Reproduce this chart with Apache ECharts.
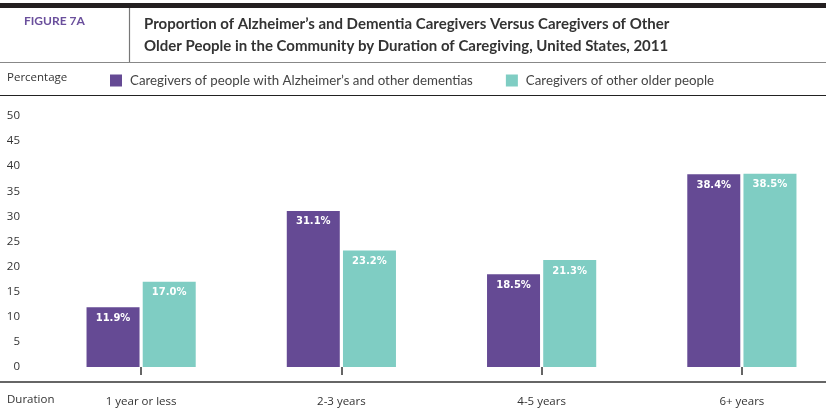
<!DOCTYPE html>
<html>
<head>
<meta charset="utf-8">
<script src="https://cdn.jsdelivr.net/npm/echarts@6/dist/echarts.min.js"></script>
<style>html,body{margin:0;padding:0;background:#fff;overflow:hidden;}#c{width:842px;height:414px;}</style>
</head>
<body>
<div id="c"></div>
<script>
var categories = ['1 year or less', '2-3 years', '4-5 years', '6+ years'];
var alzheimerValues = [11.9, 31.1, 18.5, 38.4];
var otherValues = [17.0, 23.2, 21.3, 38.5];
var seriesNames = ["Caregivers of people with Alzheimer\u2019s and other dementias", 'Caregivers of other older people'];
var yTicks = { min: 0, max: 50, interval: 5 };

var purple = '#654a94';
var teal = '#7fcdc3';
var chart = echarts.init(document.getElementById('c'));

var labelOpt = {
  show: true, position: 'insideTop', distance: 6, color: '#fff',
  fontFamily: 'DejaVu Sans', fontWeight: 'bold', fontSize: 10,
  formatter: function (p) { return p.value.toFixed(1) + '%'; }
};

chart.setOption({
  animation: false,
  title: [
    { text: 'FIGURE 7A', left: 19, top: 10, textStyle: { color: '#6a4f9c', fontSize: 12, fontWeight: 'bold', fontFamily: 'Lato' } },
    { text: 'Proportion of Alzheimer\u2019s and Dementia Caregivers Versus Caregivers of Other\nOlder People in the Community by Duration of Caregiving, United States, 2011',
      left: 139, top: 8, textStyle: { color: '#333', fontSize: 15, fontWeight: 'bold', fontFamily: 'Lato', lineHeight: 22 } }
  ],
  legend: {
    left: 105, top: 69, itemWidth: 12, itemHeight: 12, itemGap: 33, icon: 'rect',
    textStyle: { color: '#444', fontSize: 13.3, fontFamily: 'Lato', padding: [0, 0, 0, 3] },
    data: seriesNames
  },
  grid: { left: 41, width: 801, top: 116, bottom: 47, containLabel: false },
  xAxis: {
    type: 'category', data: categories, offset: 15,
    axisLine: { show: false },
    axisTick: { show: true, alignWithLabel: true, length: 8, lineStyle: { color: '#333', width: 1.5 } },
    axisLabel: { margin: 14, color: '#333', fontSize: 11.5, fontFamily: 'Open Sans' }
  },
  yAxis: {
    type: 'value', min: yTicks.min, max: yTicks.max, interval: yTicks.interval,
    splitLine: { show: false }, axisLine: { show: false }, axisTick: { show: false },
    axisLabel: { align: 'right', margin: 21, color: '#333', fontSize: 11.5, fontFamily: 'Open Sans' }
  },
  series: [
    { name: seriesNames[0], type: 'bar', data: alzheimerValues, barWidth: 53, barGap: '6%', itemStyle: { color: purple }, label: labelOpt },
    { name: seriesNames[1], type: 'bar', data: otherValues, barWidth: 53, itemStyle: { color: teal }, label: labelOpt }
  ],
  graphic: [
    { type: 'rect', shape: { x: 0, y: 3, width: 842, height: 5 }, style: { fill: '#231f20' } },
    { type: 'line', shape: { x1: 129.5, y1: 8, x2: 129.5, y2: 62 }, style: { stroke: '#777', lineWidth: 1.2 } },
    { type: 'line', shape: { x1: 0, y1: 62.5, x2: 842, y2: 62.5 }, style: { stroke: '#888', lineWidth: 1.2 } },
    { type: 'line', shape: { x1: 0, y1: 95.5, x2: 842, y2: 95.5 }, style: { stroke: '#222', lineWidth: 1.2 } },
    { type: 'line', shape: { x1: 0, y1: 382, x2: 842, y2: 382 }, style: { stroke: '#333', lineWidth: 1.5 } },
    { type: 'text', left: 7, top: 72, style: { text: 'Percentage', fill: '#333', fontSize: 11.5, fontFamily: 'Open Sans' } },
    { type: 'text', left: 7, top: 394, style: { text: 'Duration', fill: '#333', fontSize: 11.5, fontFamily: 'Open Sans' } }
  ]
});
</script>
</body>
</html>
